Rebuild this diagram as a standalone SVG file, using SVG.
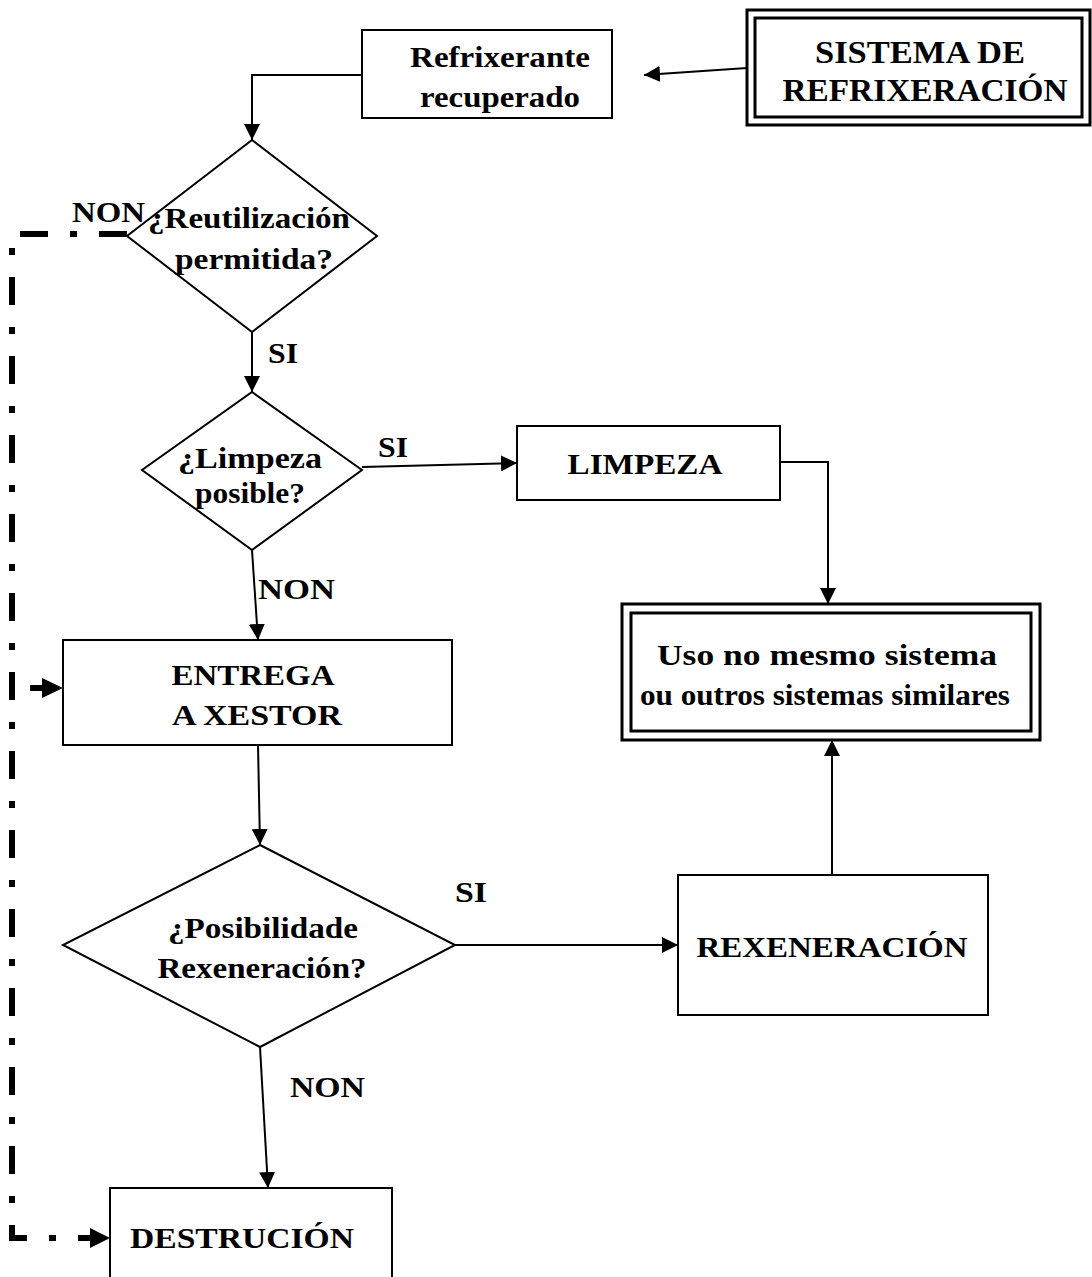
<svg xmlns="http://www.w3.org/2000/svg" width="1092" height="1277" viewBox="0 0 1092 1277">
<defs>
<marker id="ahb" viewBox="0 0 10 10" refX="10" refY="5" markerWidth="16" markerHeight="16" markerUnits="userSpaceOnUse" orient="auto">
<path d="M0,0 L10,5 L0,10 z" fill="#000"/>
</marker>
</defs>
<style>
.box{fill:#fff;stroke:#000;stroke-width:2}
.t{font-family:"Liberation Serif","Times New Roman",serif;font-weight:bold;font-size:29px;fill:#000;text-anchor:middle}
.lbl{font-family:"Liberation Serif","Times New Roman",serif;font-weight:bold;font-size:29px;fill:#000}
.c{fill:none;stroke:#000;stroke-width:2}
.d{fill:none;stroke:#000;stroke-width:6;stroke-dasharray:28 22 7 22}
</style>
<rect width="1092" height="1277" fill="#fff"/>
<g id="connectors">
<line class="c" x1="747" y1="68" x2="644" y2="75" marker-end="url(#ahb)"/>
<polyline class="c" points="362,75 252,75 252,140" marker-end="url(#ahb)"/>
<line class="c" x1="252" y1="332" x2="252" y2="392" marker-end="url(#ahb)"/>
<line class="c" x1="362" y1="467" x2="517" y2="463" marker-end="url(#ahb)"/>
<polyline class="c" points="780,462 828,462 828,604" marker-end="url(#ahb)"/>
<line class="c" x1="252" y1="550" x2="258" y2="640" marker-end="url(#ahb)"/>
<line class="c" x1="258" y1="745" x2="260" y2="845" marker-end="url(#ahb)"/>
<line class="c" x1="455" y1="945" x2="678" y2="945" marker-end="url(#ahb)"/>
<line class="c" x1="832" y1="875" x2="832" y2="740" marker-end="url(#ahb)"/>
<line class="c" x1="260" y1="1047" x2="268" y2="1188" marker-end="url(#ahb)"/>
<polyline class="d" points="127,234 12,234 12,1238 90,1238"/>
<path d="M90,1228 L110,1238 L90,1248 z" fill="#000"/>
<line x1="30" y1="688" x2="50" y2="688" stroke="#000" stroke-width="6"/>
<path d="M42,678 L63,688 L42,698 z" fill="#000"/>
<text class="lbl" x="72" y="222" textLength="73" lengthAdjust="spacingAndGlyphs">NON</text>
<text class="lbl" x="268" y="363" textLength="30" lengthAdjust="spacingAndGlyphs">SI</text>
<text class="lbl" x="378" y="457" textLength="30" lengthAdjust="spacingAndGlyphs">SI</text>
<text class="lbl" x="258" y="599" textLength="77" lengthAdjust="spacingAndGlyphs">NON</text>
<text class="lbl" x="455" y="902" textLength="32" lengthAdjust="spacingAndGlyphs">SI</text>
<text class="lbl" x="290" y="1097" textLength="75" lengthAdjust="spacingAndGlyphs">NON</text>
</g>
<g id="n-sistema">
<rect x="747" y="10" width="343" height="115" fill="#fff" stroke="#000" stroke-width="3"/>
<rect x="755" y="18" width="327" height="99" fill="none" stroke="#000" stroke-width="3"/>
<text class="t" x="920" y="63" style="font-size:32px" textLength="210" lengthAdjust="spacingAndGlyphs">SISTEMA DE</text>
<text class="t" x="925" y="101" style="font-size:32px" textLength="285" lengthAdjust="spacingAndGlyphs">REFRIXERACIÓN</text>
</g>
<g id="n-refrixerante">
<rect class="box" x="362" y="30" width="250" height="88"/>
<text class="t" x="500" y="67" textLength="180" lengthAdjust="spacingAndGlyphs">Refrixerante</text>
<text class="t" x="500" y="107" textLength="160" lengthAdjust="spacingAndGlyphs">recuperado</text>
</g>
<g id="n-reutilizacion">
<polygon class="box" points="252,140 377,236 252,332 127,236"/>
<text class="t" x="249" y="228" textLength="202" lengthAdjust="spacingAndGlyphs">¿Reutilización</text>
<text class="t" x="254" y="269" textLength="158" lengthAdjust="spacingAndGlyphs">permitida?</text>
</g>
<g id="n-limpeza-q">
<polygon class="box" points="252,392 362,470 252,550 142,470"/>
<text class="t" x="250" y="468" textLength="144" lengthAdjust="spacingAndGlyphs">¿Limpeza</text>
<text class="t" x="250" y="503" textLength="110" lengthAdjust="spacingAndGlyphs">posible?</text>
</g>
<g id="n-limpeza">
<rect class="box" x="517" y="426" width="263" height="74"/>
<text class="t" x="645" y="474" textLength="155" lengthAdjust="spacingAndGlyphs">LIMPEZA</text>
</g>
<g id="n-uso">
<rect x="622" y="604" width="418" height="136" fill="#fff" stroke="#000" stroke-width="3"/>
<rect x="631" y="613" width="400" height="118" fill="none" stroke="#000" stroke-width="3"/>
<text class="t" x="827" y="665" textLength="340" lengthAdjust="spacingAndGlyphs">Uso no mesmo sistema</text>
<text class="t" x="825" y="705" textLength="370" lengthAdjust="spacingAndGlyphs">ou outros sistemas similares</text>
</g>
<g id="n-entrega">
<rect class="box" x="63" y="640" width="389" height="105"/>
<text class="t" x="253" y="685" textLength="163" lengthAdjust="spacingAndGlyphs">ENTREGA</text>
<text class="t" x="257" y="725" textLength="170" lengthAdjust="spacingAndGlyphs">A XESTOR</text>
</g>
<g id="n-rexeneracion-q">
<polygon class="box" points="260,845 455,945 260,1047 63,945"/>
<text class="t" x="263" y="938" textLength="190" lengthAdjust="spacingAndGlyphs">¿Posibilidade</text>
<text class="t" x="262" y="978" textLength="209" lengthAdjust="spacingAndGlyphs">Rexeneración?</text>
</g>
<g id="n-rexeneracion">
<rect class="box" x="678" y="875" width="310" height="140"/>
<text class="t" x="832" y="957" textLength="271" lengthAdjust="spacingAndGlyphs">REXENERACIÓN</text>
</g>
<g id="n-destrucion">
<rect class="box" x="110" y="1188" width="282" height="100"/>
<text class="t" x="242" y="1248" textLength="224" lengthAdjust="spacingAndGlyphs">DESTRUCIÓN</text>
</g>
</svg>
